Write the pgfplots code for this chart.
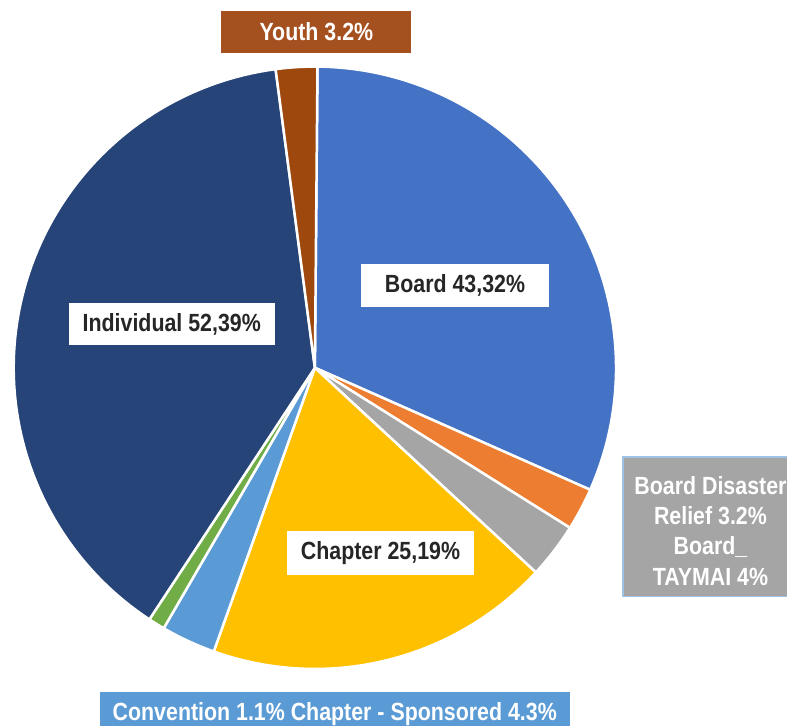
\documentclass[border=0pt]{standalone}
\usepackage{fontspec}
\setmainfont{Liberation Sans}[FakeStretch=0.86]
\usepackage{pgfplots}
\usepackage{pgfplotstable}
\pgfplotsset{compat=1.18}

% slice colours, clockwise from 12 o'clock
\definecolor{c0}{HTML}{4472C4}
\definecolor{c1}{HTML}{ED7D31}
\definecolor{c2}{HTML}{A5A5A5}
\definecolor{c3}{HTML}{FFC000}
\definecolor{c4}{HTML}{5B9BD5}
\definecolor{c5}{HTML}{70AD47}
\definecolor{c6}{HTML}{264478}
\definecolor{c7}{HTML}{9E480E}
\definecolor{youthbox}{HTML}{A5501F}
\definecolor{lbltext}{HTML}{262626}
\definecolor{grayedge}{HTML}{9DC3E6}

\tikzset{lbl/.style={font=\fontsize{25}{30.5}\selectfont\bfseries, inner sep=0pt}}

% share of the pie (percent), clockwise from the top
\pgfplotstableread{
slice pct
Board 31.50
BoardDisasterRelief 2.28
BoardTAYMAI 2.97
Chapter 18.56
ChapterSponsored 2.92
Convention 0.89
Individual 38.66
Youth 2.22
}\piedata

\def\cx{312}
\def\cy{370}
\def\R{303}

\begin{document}
\xdef\acc{0.5}
\foreach \i in {0,...,7}{%
  \pgfplotstablegetelem{\i}{pct}\of\piedata
  \pgfmathsetmacro{\tmp}{\acc+3.6*\pgfplotsretval}%
  \expandafter\xdef\csname s\i\endcsname{\acc}%
  \expandafter\xdef\csname e\i\endcsname{\tmp}%
  \xdef\acc{\tmp}%
}
\begin{tikzpicture}
\begin{axis}[
  hide axis,
  scale only axis,
  width=787pt, height=730pt,
  xmin=0, xmax=787, ymin=0, ymax=730,
  y dir=reverse,
  clip=false
]
\pgfplotsinvokeforeach{0,...,7}{%
  \edef\temp{\noexpand\addplot[fill=c#1, draw=white, line width=2.5pt, line join=round,
      domain=\csname s#1\endcsname:\csname e#1\endcsname, samples=90]
    ({\cx+\R*sin(x)}, {\cy-\R*cos(x)}) -- (axis cs:\cx,\cy) -- cycle;}%
  \temp
}

\node[lbl, fill=white, text=lbltext, minimum width=190pt, minimum height=43pt]
  at (axis cs:453,287) {Board 43,32\%};
\node[lbl, fill=white, text=lbltext, minimum width=207pt, minimum height=42pt]
  at (axis cs:168,326) {Individual 52,39\%};
\node[lbl, fill=white, text=lbltext, minimum width=188pt, minimum height=44pt]
  at (axis cs:378,556) {Chapter 25,19\%};
\node[lbl, fill=youthbox, text=white, minimum width=191pt, minimum height=42pt]
  at (axis cs:313.5,32) {Youth 3.2\%};

\fill[c2, draw=grayedge, line width=1.5pt] (axis cs:622,460) rectangle (axis cs:805,600);
\node[lbl, text=white, align=center] at (axis cs:710,534)
  {Board Disaster\\Relief 3.2\%\\Board\_\\TAYMAI 4\%};

\fill[c4] (axis cs:96,696) rectangle (axis cs:569,745);
\node[lbl, text=white] at (axis cs:332,718)
  {Convention 1.1\% Chapter - Sponsored 4.3\%};
\end{axis}
\pgfresetboundingbox
\path (current axis.south west) rectangle (current axis.north east);
\end{tikzpicture}
\end{document}
